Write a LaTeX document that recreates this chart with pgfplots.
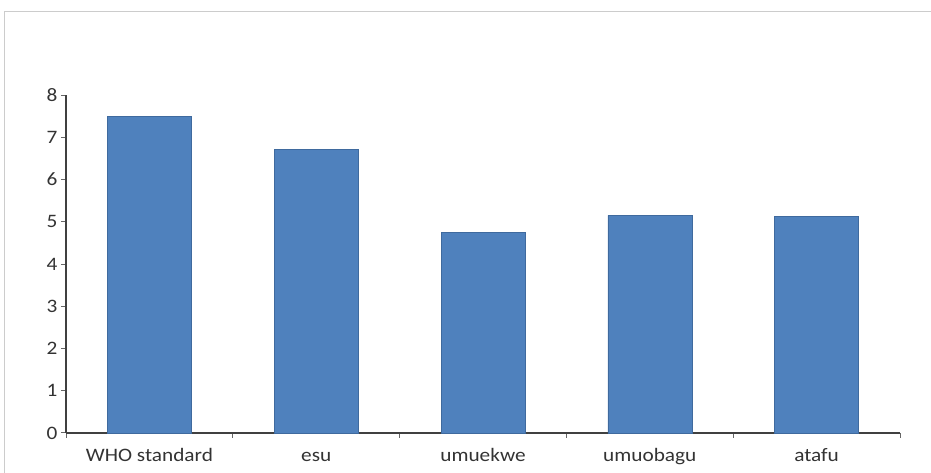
\documentclass[border=0pt]{standalone}
\usepackage{fontspec}
\setmainfont{Carlito}[FakeStretch=1.12]
\usepackage{pgfplots}
\pgfplotsset{compat=1.18}
\definecolor{barblue}{HTML}{4F81BD}
\definecolor{baredge}{HTML}{3F6A9E}
\begin{document}
\begin{tikzpicture}
\useasboundingbox (0pt,0pt) rectangle (931pt,473pt);
\draw[gray!40, line width=0.6pt] (4pt,0pt) -- (4pt,462pt) -- (931pt,462pt);
\begin{axis}[
  at={(66pt,40pt)}, anchor=south west,
  scale only axis, width=834pt, height=338pt,
  xmin=-0.5, xmax=4.5, ymin=0, ymax=8,
  axis x line=bottom, axis y line=left,
  axis line style={-, line width=1.2pt, black!75},
  xtick={-0.5,0.5,1.5,2.5,3.5,4.5},
  xticklabels={},
  extra x ticks={0,1,2,3,4},
  extra x tick labels={WHO standard, esu, umuekwe, umuobagu, atafu},
  extra x tick style={major tick length=0pt, xticklabel style={text height=1.6ex, text depth=0.3ex, yshift=-17pt}},
  ytick={0,1,...,8},
  x tick style={draw=black!60, line width=1pt},
  y tick style={draw=black!60, line width=1pt},
  tick align=outside, major tick length=5pt,
  ticklabel style={font=\fontsize{19}{19}\selectfont, text=black!80},
  /pgf/number format/assume math mode=true,
  ybar, bar width=84pt,
  clip=false,
]
\addplot[fill=barblue, draw=baredge, line width=0.6pt] coordinates {(0,7.5) (1,6.72) (2,4.75) (3,5.15) (4,5.12)};
\end{axis}
\end{tikzpicture}
\end{document}
